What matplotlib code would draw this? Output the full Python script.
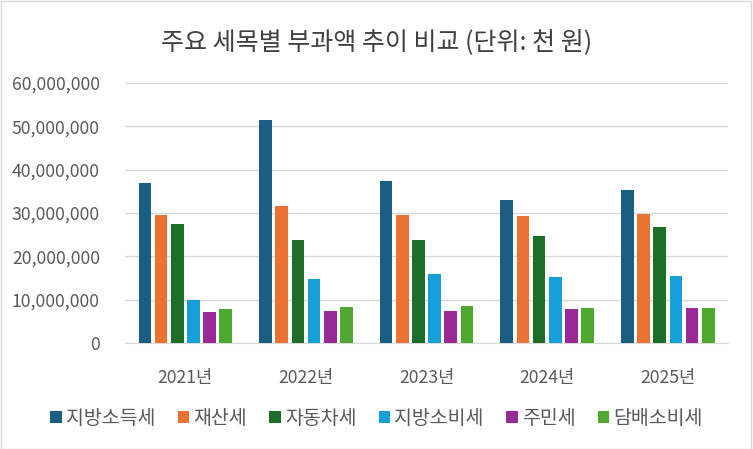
import numpy as np
import matplotlib.pyplot as plt
from matplotlib.patches import Rectangle
from matplotlib.ticker import FuncFormatter

plt.rcParams['font.family'] = ['Noto Sans CJK KR', 'DejaVu Sans']

# Data (천 원)
years = ["2021년", "2022년", "2023년", "2024년", "2025년"]
series_names = ["지방소득세", "재산세", "자동차세", "지방소비세", "주민세", "담배소비세"]
local_income = [36900000, 51500000, 37400000, 32900000, 35300000]
property_tax = [29600000, 31600000, 29500000, 29300000, 29800000]
vehicle_tax = [27500000, 23800000, 23800000, 24600000, 26700000]
local_consumption = [9900000, 14800000, 15900000, 15200000, 15500000]
resident_tax = [7200000, 7400000, 7300000, 7800000, 8000000]
tobacco_tax = [7900000, 8300000, 8500000, 8000000, 8000000]

series = [local_income, property_tax, vehicle_tax, local_consumption, resident_tax, tobacco_tax]
colors = ["#1B5E83", "#EA7232", "#1D6E28", "#179FD9", "#982A96", "#4FA82F"]

fig = plt.figure(figsize=(7.53, 4.49), dpi=100)
ax = fig.add_axes([0.166, 0.236, 0.801, 0.579])

x = np.arange(len(years))
step = 0.134
width = 0.105
for i, (name, vals, c) in enumerate(zip(series_names, series, colors)):
    offs = (i - 2.5) * step
    ax.bar(x + offs, vals, width=width, color=c, label=name, zorder=3)

ax.set_xlim(-0.5, len(years) - 0.5)
ax.set_ylim(0, 60000000)
ax.set_yticks(np.arange(0, 60000001, 10000000))
ax.yaxis.set_major_formatter(FuncFormatter(lambda v, p: f"{int(v):,}"))
ax.grid(axis="y", color="#D9D9D9", linewidth=1, zorder=0)
for s in ["top", "right", "left"]:
    ax.spines[s].set_visible(False)
ax.spines["bottom"].set_color("#D9D9D9")
ax.tick_params(axis="both", length=0, labelsize=12.7, colors="#595959")
ax.tick_params(axis="x", pad=19)
ax.tick_params(axis="y", pad=18)
ax.set_xticks(x)
ax.set_xticklabels(years)

fig.suptitle("주요 세목별 부과액 추이 비교 (단위: 천 원)", fontsize=18, color="#404040", y=0.935)

leg = fig.legend(loc="center", bbox_to_anchor=(0.5, 0.068), ncol=6, frameon=False,
                 fontsize=14, handlelength=0.6, handleheight=0.6, handletextpad=0.2,
                 columnspacing=1.15, labelcolor="#595959")

fig.patches.append(Rectangle((0.001, 0.001), 0.997, 0.997, transform=fig.transFigure,
                             fill=False, edgecolor="#D9D9D9", linewidth=1))

fig.savefig("out.png", dpi=100)
